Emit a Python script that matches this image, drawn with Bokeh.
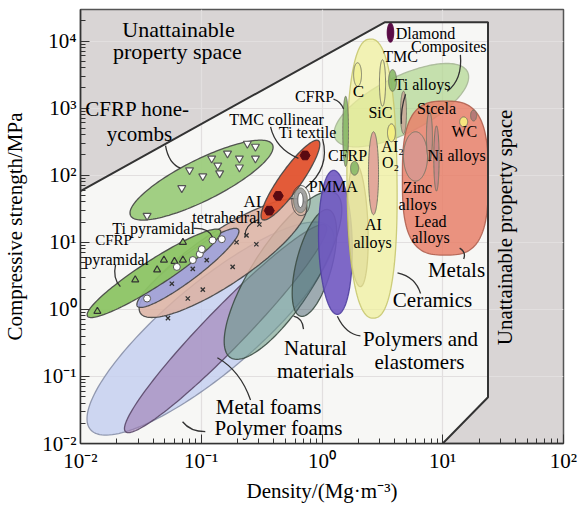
import numpy as np
from bokeh.plotting import figure
from bokeh.models import Range1d, Label, FixedTicker
from bokeh.embed import file_html
from bokeh.resources import INLINE

# ---------------- data ----------------
# Material-family envelopes: the two ends of each envelope's long axis
# (density in Mg/m3, compressive strength in MPa) and its relative width.
env_names = ["Polymer foams", "Metal foams", "Natural materials", "Natural (dense)",
             "Al tetrahedral", "Ti pyramidal", "CFRP pyramidal", "CFRP honeycombs",
             "TMC collinear / Ti textile", "Composites", "Polymers and elastomers",
             "Polymers (filled)", "Ceramics", "Metals", "Diamond"]
env_rho_a = [0.0121, 0.0236, 0.175, 1.13, 0.0314, 0.0296, 0.01143, 0.026, 0.321, 1.29, 1.245, 1.89, 2.52, 10.5, 3.69]
env_sig_a = [0.0161, 0.015, 0.19, 30.6, 0.873, 1.11, 0.79, 24.9, 21.8, 350, 118, 150, 10700, 1268, 18400]
env_rho_b = [1.175, 1.07, 1.29, 0.663, 0.729, 0.203, 0.144, 0.389, 0.935, 16.0, 1.34, 2.08, 2.67, 10.5, 3.69]
env_sig_b = [16.6, 17.8, 54, 0.79, 38.7, 15.5, 15.0, 286, 327, 3500, 0.84, 2.18, 0.74, 6.44, 9660]
env_width = [0.285, 0.14, 0.32, 0.32, 0.27, 0.19, 0.165, 0.26, 0.22, 0.38, 0.23, 0.16, 0.177, 0.55, 0.33]
env_round = [2, 2, 2, 2, 2, 2, 2, 2, 2, 2, 2, 2, 2.4, 3, 2]

# Individual materials (small envelopes)
mat_names = ["C", "SiC", "TMC", "CFRP", "CFRP (2)", "Al2O3", "Al alloys", "Zinc alloys",
             "Steels", "Ni alloys", "Ti alloys", "WC", "W alloys", "PMMA"]
mat_rho_a = [1.97, 3.17, 3.84, 1.57, 1.86, 3.76, 2.67, 5.95, 7.76, 8.87, 4.73, 14.9, 18.0, 0.663]
mat_sig_a = [4740, 5260, 3750, 1500, 161, 582, 444, 444, 873, 543, 1780, 738, 935, 64.4]
mat_rho_b = [1.97, 3.17, 3.84, 1.57, 1.86, 3.76, 2.67, 5.95, 7.76, 8.87, 4.73, 14.9, 18.0, 0.663]
mat_sig_b = [2110, 1070, 1780, 135, 100, 316, 25.8, 81.6, 161, 58, 415, 526, 644, 27.6]
mat_width = [0.33, 0.13, 0.36, 0.08, 0.57, 0.44, 0.12, 0.48, 0.12, 0.08, 0.14, 0.8, 0.55, 0.55]

# Lattice data points
honey_rho = [0.0356, 0.069, 0.080, 0.103, 0.122, 0.137, 0.142, 0.165, 0.207, 0.207, 0.241, 0.281, 0.281]
honey_sig = [24.9, 64.4, 119, 96.6, 178, 140, 107, 211, 178, 131, 296, 267, 178]
cfrp_pyr_rho = [0.0138, 0.0284, 0.0431, 0.0491, 0.0705, 0.0705, 0.060]
cfrp_pyr_sig = [0.935, 2.76, 3.88, 5.43, 5.43, 10.0, 5.2]
ti_pyr_rho = [0.0356, 0.0628, 0.0851, 0.0972, 0.101, 0.124, 0.148]
ti_pyr_sig = [1.45, 4.29, 5.43, 6.66, 7.89, 10.7, 11.1]
al_tet_rho = [0.0571, 0.0851, 0.111, 0.196, 0.286, 0.182, 0.103, 0.0774, 0.053, 0.237, 0.303]
al_tet_sig = [2.41, 4.01, 5.43, 10.0, 9.35, 4.29, 1.97, 1.45, 0.738, 12.7, 18.4]
tmc_rho = [0.724, 0.434, 0.366]
tmc_sig = [197, 49.1, 29.6]

# Boundary of attainable property space
bound_rho = [0.01, 3.30, 23.7, 23.7, 10.0]
bound_sig = [58, 19000, 19000, 0.049, 0.01]

x_ticks = [0.01, 0.1, 1, 10, 100]
y_ticks = [0.01, 0.1, 1, 10, 100, 1000, 10000]
x_tick_labels = ["10⁻²", "10⁻¹", "10⁰", "10¹", "10²"]
y_tick_labels = ["10⁻²", "10⁻¹", "10⁰", "10¹", "10²", "10³", "10⁴"]

# ---------------- styles ----------------
env_fill = ["#c6d0f0", "#9c7ab2", "#6f9c8a", "#46606e", "#dcb2a2", "#9ea2dc", "#8cc464",
            "#9ccc7c", "#e2522e", "#b4d894", "#7058c2", "#b0a080", "#f0f098", "#e8806a", "#5a0c46"]
env_alpha = [0.85, 0.6, 0.6, 0.5, 0.85, 0.9, 0.95, 0.95, 0.95, 0.75, 0.9, 0.55, 0.7, 0.85, 1.0]
env_line = ["#8890a8", "#5a4868", "#3c4c44", "#3c4c44", "#444444", "#444444", "#444444",
            "#444444", "#444444", "#a8b898", "#5040a0", "#908060", "#c8c870", "#b06050", "#5a0c46"]
mat_fill = ["#f0f098", "#f0f0a0", "#88b868", "#88b868", "#88b868", "#f4f080", "#e0a098",
            "#d89890", "#c89088", "#c88888", "#c8a898", "#f8f080", "#b07878", "#9a9a9a"]

FONT = "Liberation Serif"

W, H = 588, 505
LB, RB, TB, BB = 80, 25, 9, 56
X0, X1 = 0.01, 100
Y0, Y1 = 0.01, 29500
px_dec_x = (W - LB - RB) / np.log10(X1 / X0)
px_dec_y = (H - TB - BB) / np.log10(Y1 / Y0)
K = px_dec_y / px_dec_x


def envelope(ra, sa, rb, sb, w, n=2.0, N=160):
    """Ellipse (super-ellipse) in log-log screen space through two axis ends."""
    u1, v1 = np.log10(ra), np.log10(sa) * K
    u2, v2 = np.log10(rb), np.log10(sb) * K
    cu, cv = (u1 + u2) / 2, (v1 + v2) / 2
    a = np.hypot(u2 - u1, v2 - v1) / 2
    b = a * w
    th = np.arctan2(v2 - v1, u2 - u1)
    t = np.linspace(0, 2 * np.pi, N)
    c, s = np.cos(t), np.sin(t)
    ex = a * np.sign(c) * np.abs(c) ** (2 / n)
    ey = b * np.sign(s) * np.abs(s) ** (2 / n)
    u = cu + ex * np.cos(th) - ey * np.sin(th)
    v = cv + ex * np.sin(th) + ey * np.cos(th)
    return 10 ** u, 10 ** (v / K)


p = figure(width=W, height=H, x_axis_type="log", y_axis_type="log",
           x_range=Range1d(X0, X1), y_range=Range1d(Y0, Y1),
           output_backend="svg", toolbar_location=None,
           min_border_left=LB, min_border_right=RB, min_border_top=TB, min_border_bottom=BB)
p.background_fill_color = "#d9d5d5"
p.border_fill_color = "white"
p.outline_line_color = "#555555"
p.outline_line_width = 1.5

# attainable region
p.patch(bound_rho + [0.01], bound_sig + [0.01], fill_color="#f7f7f5", line_color=None, level="image")

for ax, ticks, labels in ((p.xaxis[0], x_ticks, x_tick_labels), (p.yaxis[0], y_ticks, y_tick_labels)):
    lo = int(np.log10(ticks[0]))
    hi = int(np.log10(ticks[-1]))
    minor = [m * 10.0 ** e for e in range(lo, hi + 1) for m in range(2, 10)]
    ax.ticker = FixedTicker(ticks=ticks, minor_ticks=minor)
    ax.major_label_overrides = {t: l for t, l in zip(ticks, labels)}
    ax.major_tick_in = 9
    ax.major_tick_out = 0
    ax.minor_tick_in = 5
    ax.minor_tick_out = 0
    ax.major_tick_line_color = "#333333"
    ax.minor_tick_line_color = "#333333"
    ax.axis_line_color = "#333333"
    ax.axis_line_width = 1.5
    ax.major_label_text_font = FONT
    ax.major_label_text_font_size = "21px"
    ax.major_label_text_color = "black"
    ax.axis_label_text_font = FONT
    ax.axis_label_text_font_style = "normal"
    ax.axis_label_text_font_size = "21px"
    ax.axis_label_text_color = "black"

p.xaxis.axis_label = "Density/(Mg·m⁻³)"
p.yaxis.axis_label = "Compressive strength/MPa"
p.xaxis.major_label_standoff = 5
p.yaxis.major_label_standoff = 4
p.xaxis.axis_label_standoff = 3
p.yaxis.axis_label_standoff = 12

for g in (p.xgrid[0], p.ygrid[0]):
    g.grid_line_color = "#e2dfdf"
    g.grid_line_width = 1.2

# family envelopes
for i in range(len(env_names)):
    xs, ys = envelope(env_rho_a[i], env_sig_a[i], env_rho_b[i], env_sig_b[i], env_width[i], env_round[i])
    p.patch(xs, ys, fill_color=env_fill[i], fill_alpha=env_alpha[i],
            line_color=env_line[i], line_width=1.3, line_alpha=0.9)

# boundary line of attainable space
p.line(bound_rho, bound_sig, line_color="#333333", line_width=2)

# individual materials
for i in range(len(mat_names)):
    xs, ys = envelope(mat_rho_a[i], mat_sig_a[i], mat_rho_b[i], mat_sig_b[i], mat_width[i])
    p.patch(xs, ys, fill_color=mat_fill[i], fill_alpha=0.9, line_color="#777766", line_width=1)

# PMMA rings
xs, ys = envelope(0.663, 55, 0.663, 33, 0.35)
p.patch(xs, ys, fill_color="white", line_color="#555555", line_width=1)
xs, ys = envelope(0.67, 70, 0.67, 25, 0.6)
p.patch(xs, ys, fill_color=None, line_color="#444444", line_width=1)

# lattice data
p.scatter(honey_rho, honey_sig, marker="inverted_triangle", size=8, fill_color="white", line_color="#555555", line_width=1.2)
p.scatter(cfrp_pyr_rho, cfrp_pyr_sig, marker="triangle", size=7, fill_color="#8cc464", line_color="#333333", line_width=1.2)
p.scatter(ti_pyr_rho, ti_pyr_sig, marker="circle", size=7, fill_color="white", line_color="#555555", line_width=1)
p.scatter(al_tet_rho, al_tet_sig, marker="x", size=6, line_color="#333333", line_width=1.3)
p.scatter(tmc_rho, tmc_sig, marker="hex", size=10, fill_color="#5a0a12", line_color="#5a0a12")

# leader lines (start, control, end)
leaders = [
    ((0.0506, 276), (0.0536, 150), (0.0673, 127)),
    ((0.375, 526), (0.412, 250), (0.638, 178)),
    ((1.01, 350), (1.175, 127), (0.729, 64.4)),
    ((0.298, 21.8), (0.224, 17.8), (0.232, 11.9)),
    ((0.0863, 16.1), (0.115, 16.6), (0.124, 11.9)),
    ((0.0195, 4.59), (0.0184, 2.86), (0.0214, 2.18)),
    ((0.256, 0.0444), (0.211, 0.122), (0.136, 0.19)),
    ((0.108, 0.015), (0.0814, 0.015), (0.070, 0.0211)),
    ((0.703, 0.508), (0.69, 0.738), (0.581, 0.79)),
    ((2.08, 0.401), (1.57, 0.429), (1.34, 0.79)),
    ((6.55, 1.72), (5.95, 3.05), (4.22, 3.50)),
    ((14.9, 5.62), (15.7, 7.13), (13.8, 8.17)),
    ((14.0, 6220), (14.6, 2670), (10.9, 1780)),
    ((4.92, 1610), (4.47, 966), (4.55, 582)),
    ((1.245, 1355), (1.42, 1268), (1.51, 966)),
]
p.quadratic(x0=[l[0][0] for l in leaders], y0=[l[0][1] for l in leaders],
            cx=[l[1][0] for l in leaders], cy=[l[1][1] for l in leaders],
            x1=[l[2][0] for l in leaders], y1=[l[2][1] for l in leaders],
            line_color="#333333", line_width=1.3)

# text annotations: (text, density, strength, font px, angle)
texts = [
    ("Unattainable", 0.0648, 15000, 22, 0),
    ("property space", 0.0635, 6890, 22, 0),
    ("CFRP hone-", 0.0297, 966, 21, 0),
    ("ycombs", 0.0308, 415, 21, 0),
    ("TMC collinear", 0.42, 667, 16, 0),
    ("Ti textile", 0.759, 429, 16, 0),
    ("AI", 0.266, 40.1, 17, 0),
    ("tetrahedral", 0.162, 23.3, 16, 0),
    ("Ti pyramidal", 0.0403, 16.1, 16, 0),
    ("CFRP", 0.0188, 10.7, 15, 0),
    ("pyramidal", 0.0199, 5.62, 16, 0),
    ("CFRP", 0.867, 1500, 16, 0),
    ("C", 2.0, 1780, 17, 0),
    ("SiC", 3.05, 874, 16, 0),
    ("TMC", 4.47, 5820, 16, 0),
    ("Dlamond", 7.19, 13100, 16, 0),
    ("Composites", 11.2, 8170, 16, 0),
    ("Ti alloys", 6.79, 2250, 16, 0),
    ("Stcela", 8.87, 1000, 16, 0),
    ("WC", 15.1, 444, 16, 0),
    ("Ni alloys", 13.0, 197, 16, 0),
    ("CFRP", 1.63, 197, 16, 0),
    ("AI₂", 3.84, 267, 16, 0),
    ("O₂", 3.69, 155, 16, 0),
    ("PMMA", 1.24, 68.9, 16, 0),
    ("AI", 2.67, 18.4, 16, 0),
    ("alloys", 2.62, 10.0, 16, 0),
    ("Zinc", 6.18, 64.4, 16, 0),
    ("alloys", 6.18, 36.2, 16, 0),
    ("Lead", 7.93, 20.4, 16, 0),
    ("alloys", 7.93, 11.9, 16, 0),
    ("Metals", 13.0, 3.87, 21, 0),
    ("Ceramics", 8.22, 1.36, 21, 0),
    ("Polymers and", 6.55, 0.362, 21, 0),
    ("elastomers", 6.41, 0.166, 21, 0),
    ("Natural", 0.883, 0.267, 21, 0),
    ("materials", 0.883, 0.119, 21, 0),
    ("Metal foams", 0.361, 0.035, 21, 0),
    ("Polymer foams", 0.436, 0.0172, 21, 0),
    ("Unattainable property space", 32.8, 16.6, 21, np.pi / 2),
]
for t, x, y, fs, ang in texts:
    p.add_layout(Label(x=x, y=y, text=t, text_font=FONT, text_font_size=f"{fs}px",
                       text_align="center", text_baseline="middle", text_color="black",
                       angle=ang))

open("out.html", "w").write(file_html(p, INLINE))
